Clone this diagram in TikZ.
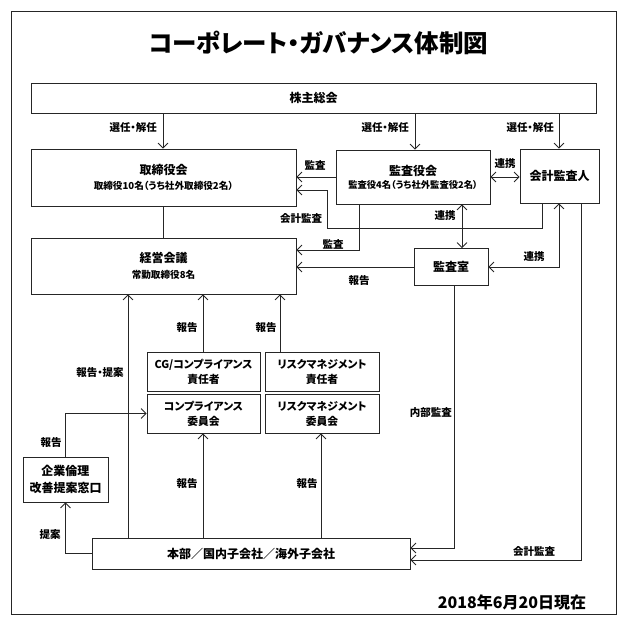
\documentclass[tikz,border=0pt]{standalone}
\usepackage{fontspec}
\setmainfont{Noto Sans CJK JP}[RawFeature=+palt]
\usetikzlibrary{arrows.meta}
\begin{document}
\begin{tikzpicture}[x=1pt,y=-1pt,
  box/.style={draw=black!85, line width=0.8pt, fill=white, inner sep=0pt, align=center,
    font=\bfseries\fontsize{12}{14}\selectfont},
  lbl/.style={font=\bfseries\fontsize{10.5}{12}\selectfont, inner sep=0pt},
  conn/.style={draw=black!85, line width=0.8pt},
  tip/.tip={Straight Barb[length=5pt,width=10pt,line width=0.8pt]},
  arr/.style={conn, -tip},
  darr/.style={conn, tip-tip},
]
\useasboundingbox (0,0) rectangle (624,623);
\draw[conn] (11,11) rectangle (616,614);

\node[font=\bfseries\fontsize{24.5}{27}\selectfont, inner sep=0pt] (title) at (318.5,43) {コーポレート・ガバナンス体制図};

% boxes
\node[box, minimum width=565, minimum height=30] (soukai) at (313.5,98) {株主総会};
\node[box, minimum width=265, minimum height=57] (torishimari) at (163.5,177.5)
  {取締役会\\[1pt]{\fontsize{9.6}{11}\selectfont 取締役10名（うち社外取締役2名）}};
\node[box, minimum width=154, minimum height=54] (kansayaku) at (413,177)
  {監査役会\\[-1pt]{\fontsize{9.3}{11}\selectfont 監査役4名（うち社外監査役2名）}};
\node[box, minimum width=79, minimum height=54] (kaikei) at (559.5,176) {会計監査人};
\node[box, minimum width=265, minimum height=56] (keiei) at (163.5,266)
  {経営会議\\[2pt]{\fontsize{9.6}{11}\selectfont 常勤取締役8名}};
\node[box, minimum width=74, minimum height=37] (kansashitsu) at (451,267) {監査室};
\node[box, minimum width=113, minimum height=39, font=\bfseries\fontsize{10.8}{15}\selectfont] (cg) at (203.5,371.5) {CG/コンプライアンス\\責任者};
\node[box, minimum width=113, minimum height=39, font=\bfseries\fontsize{10.8}{15}\selectfont] (comp) at (203.5,413.5) {コンプライアンス\\委員会};
\node[box, minimum width=114, minimum height=39, font=\bfseries\fontsize{10.8}{15}\selectfont] (riskr) at (322,371.5) {リスクマネジメント\\責任者};
\node[box, minimum width=114, minimum height=39, font=\bfseries\fontsize{10.8}{15}\selectfont] (riskc) at (322,413.5) {リスクマネジメント\\委員会};
\node[box, minimum width=85, minimum height=45, font=\bfseries\fontsize{12}{17}\selectfont] (kigyo) at (65.5,479.5) {企業倫理\\改善提案窓口};
\node[box, minimum width=318, minimum height=31] (honbu) at (251,553.5) {本部／国内子会社／海外子会社};

\node[font=\bfseries\fontsize{16}{18}\selectfont, inner sep=0pt] (date) at (512,602) {2018年6月20日現在};

% helper coordinates
\coordinate (xA) at (163,0);
\coordinate (xB) at (415,0);
\coordinate (xC) at (559,0);
\coordinate (xD) at (542,0);
\coordinate (xE) at (327,0);
\coordinate (xF) at (359,0);
\coordinate (xG) at (462,0);
\coordinate (xH) at (128,0);
\coordinate (xI) at (203,0);
\coordinate (xJ) at (280,0);
\coordinate (xK) at (321,0);
\coordinate (xM) at (454,0);
\coordinate (xN) at (581,0);
\coordinate (yA) at (0,177);
\coordinate (yB) at (0,228);
\coordinate (yC) at (0,190);
\coordinate (yD) at (0,250);
\coordinate (yG) at (0,548);
\coordinate (yH) at (0,560);

% connectors
\draw[arr] (soukai.south -| xA) -- (torishimari.north -| xA);
\draw[arr] (soukai.south -| xB) -- (kansayaku.north -| xB);
\draw[arr] (soukai.south -| xC) -- (kaikei.north -| xC);
\draw[arr] (kansayaku.west |- yA) -- (torishimari.east |- yA);
\draw[arr] (kaikei.south -| xD) -- (xD |- yB) -- (xE |- yB) -- (xE |- yC) -- (torishimari.east |- yC);
\draw[arr] (kansayaku.south -| xF) -- (xF |- yD) -- (keiei.east |- yD);
\draw[darr] (kansayaku.east |- yA) -- (kaikei.west |- yA);
\draw[darr] (kansayaku.south -| xG) -- (kansashitsu.north -| xG);
\draw[darr] (kansashitsu.east) -- (kansashitsu.east -| xC) -- (kaikei.south -| xC);
\draw[arr] (kansashitsu.west) -- (kansashitsu.west -| keiei.east);
\draw[conn] (torishimari.south) -- (keiei.north);
\draw[arr] (honbu.north -| xH) -- (keiei.south -| xH);
\draw[arr] (cg.north -| xI) -- (keiei.south -| xI);
\draw[arr] (riskr.north -| xJ) -- (keiei.south -| xJ);
\draw[arr] (honbu.north -| xI) -- (comp.south -| xI);
\draw[arr] (honbu.north -| xK) -- (riskc.south -| xK);
\draw[arr] (kigyo.north) -- (kigyo.north |- comp.west) -- (comp.west);
\draw[arr] (honbu.west) -- (honbu.west -| kigyo.south) -- (kigyo.south);
\draw[arr] (kansashitsu.south -| xM) -- (xM |- yG) -- (honbu.east |- yG);
\draw[arr] (kaikei.south -| xN) -- (xN |- yH) -- (honbu.east |- yH);

% labels
\node[lbl, anchor=east] (l1) at (157,128) {選任・解任};
\node[lbl, anchor=east] (l2) at (409,128) {選任・解任};
\node[lbl, anchor=east] (l3) at (554,128) {選任・解任};
\node[lbl] (l4) at (315,165) {監査};
\node[lbl] (l5) at (301,219) {会計監査};
\node[lbl] (l6) at (333,244) {監査};
\node[lbl] (l7) at (505,164) {連携};
\node[lbl] (l8) at (445,216) {連携};
\node[lbl] (l9) at (534,257) {連携};
\node[lbl] (l10) at (359,281) {報告};
\node[lbl] (l11) at (187,328) {報告};
\node[lbl] (l12) at (266,328) {報告};
\node[lbl] (l13) at (100,373) {報告・提案};
\node[lbl] (l14) at (51,443) {報告};
\node[lbl] (l15) at (50,535) {提案};
\node[lbl] (l16) at (187,484) {報告};
\node[lbl] (l17) at (307,484) {報告};
\node[lbl, anchor=east] (l18) at (452,413) {内部監査};
\node[lbl] (l19) at (534,552) {会計監査};
\end{tikzpicture}
\end{document}
